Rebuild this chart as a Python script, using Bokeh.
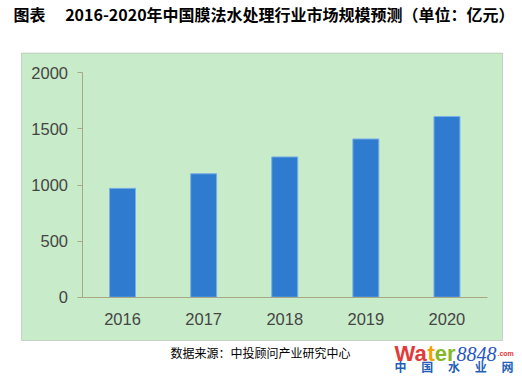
from bokeh.plotting import figure
from bokeh.models import BoxAnnotation, Label, Range1d, FixedTicker, ColumnDataSource
from bokeh.embed import file_html
from bokeh.resources import INLINE

years = [2016, 2017, 2018, 2019, 2020]
year_labels = ["2016", "2017", "2018", "2019", "2020"]
values = [970, 1100, 1250, 1410, 1610]
y_ticks = [0, 500, 1000, 1500, 2000]

title_text = "图表\u3000 2016-2020年中国膜法水处理行业市场规模预测（单位：亿元）"
source_text = "数据来源：中投顾问产业研究中心"

W, H = 522, 383
# pixel placement of the plotting area inside the full-size frame
AX_L, AX_R = 81.5, 487.0     # x pixels of first/last category band edges
AX_B, AX_T = 296.7, 72.3     # y pixels of value 0 and 2000
x0, x1 = years[0] - 0.5, years[-1] + 0.5
ppx = (AX_R - AX_L) / (x1 - x0)
ppy = (AX_B - AX_T) / (y_ticks[-1] - y_ticks[0])
x_range = Range1d(x0 - AX_L / ppx, x1 + (W - AX_R) / ppx)
y_range = Range1d(y_ticks[0] - (H - AX_B) / ppy, y_ticks[-1] + AX_T / ppy)

src = ColumnDataSource(data=dict(year=years, value=values))

p = figure(width=W, height=H, x_range=x_range, y_range=y_range,
           output_backend="svg", toolbar_location=None,
           min_border=0, min_border_left=0, min_border_right=0,
           min_border_top=0, min_border_bottom=0)
p.border_fill_color = "white"
p.background_fill_color = "white"
p.outline_line_color = None
p.xgrid.visible = False
p.ygrid.visible = False

# green chart panel (screen units: from frame bottom-left, y up)
panel = BoxAnnotation(left=21, right=502, top=H - 52.5, bottom=H - 340,
                      left_units="screen", right_units="screen",
                      top_units="screen", bottom_units="screen",
                      fill_color="#c8ecca", fill_alpha=1.0,
                      line_color="#7f7f7f", line_width=1, level="underlay")
p.add_layout(panel)

p.vbar(x="year", top="value", width=0.32, source=src,
       fill_color="#2e7bd0", line_color="#79aee6", line_width=1)

axis_col = "#a8a884"
lab_col = "#454545"
p.yaxis.fixed_location = x0
p.yaxis.bounds = (y_ticks[0], y_ticks[-1])
p.yaxis.ticker = FixedTicker(ticks=y_ticks)
p.yaxis.axis_line_color = axis_col
p.yaxis.major_tick_line_color = axis_col
p.yaxis.major_tick_out = 5
p.yaxis.major_tick_in = 0
p.yaxis.minor_tick_line_color = None
p.yaxis.major_label_standoff = 9
p.yaxis.major_label_text_font = "Liberation Sans"
p.yaxis.major_label_text_font_size = "16.5px"
p.yaxis.major_label_text_color = lab_col

p.xaxis.fixed_location = y_ticks[0]
p.xaxis.bounds = (x0, x1)
p.xaxis.ticker = FixedTicker(ticks=years)
p.xaxis.major_label_overrides = {y: s for y, s in zip(years, year_labels)}
p.xaxis.axis_line_color = axis_col
p.xaxis.major_tick_line_color = None
p.xaxis.minor_tick_line_color = None
p.xaxis.major_tick_out = 0
p.xaxis.major_tick_in = 0
p.xaxis.major_label_standoff = 16
p.xaxis.major_label_text_font = "Liberation Sans"
p.xaxis.major_label_text_font_size = "16.5px"
p.xaxis.major_label_text_color = lab_col


def lab(text, x, y, **kw):
    l = Label(text=text, x=x, y=y, x_units="screen", y_units="screen", **kw)
    p.add_layout(l)
    return l


lab(title_text, 13, H - 13, text_font="Noto Sans CJK SC", text_font_size="16px",
    text_font_style="bold", text_color="black", text_baseline="middle", text_align="left")
lab(source_text, 260, H - 351.7, text_font="Noto Sans CJK SC", text_font_size="12px",
    text_color="black", text_baseline="middle", text_align="center")

# watermark
wm_base = H - 353.3
lab("Wa", 394, wm_base, text_font="Liberation Sans", text_font_size="22px", text_font_style="bold",
    text_color="#e23a3a", text_baseline="alphabetic")
lab("t", 427, wm_base, text_font="Liberation Sans", text_font_size="22px", text_font_style="bold",
    text_color="#f2a100", text_baseline="alphabetic")
lab("er", 434.3, wm_base, text_font="Liberation Sans", text_font_size="22px", text_font_style="bold",
    text_color="#86b825", text_baseline="alphabetic")
lab("8848", 456, wm_base, text_font="Liberation Serif", text_font_size="20px", text_font_style="italic",
    text_color="#2756c2", text_baseline="alphabetic")
lab(".com", 497, wm_base, text_font="Liberation Sans", text_font_size="7px", text_font_style="bold",
    text_color="#e23a3a", text_baseline="alphabetic")
lab("中\u3000  国\u3000  水\u3000  业\u3000  网", 394, H - 365.5, text_font="Noto Sans CJK SC",
    text_font_size="12px", text_font_style="bold", text_color="#1f5fb8", text_baseline="middle")

open("out.html", "w").write(file_html(p, INLINE))
